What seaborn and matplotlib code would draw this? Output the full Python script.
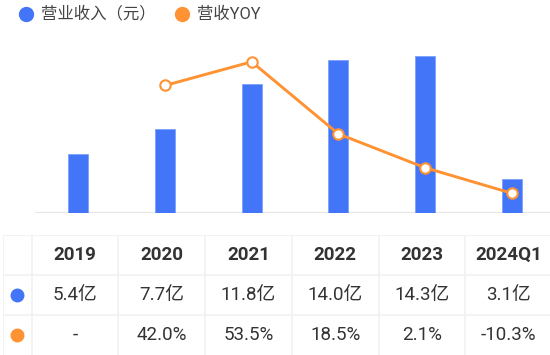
import numpy as np
import pandas as pd
import matplotlib
matplotlib.use("Agg")
import matplotlib.pyplot as plt
import seaborn as sns

# ---- data ----
years = ["2019", "2020", "2021", "2022", "2023", "2024Q1"]
revenue = [5.4, 7.7, 11.8, 14.0, 14.3, 3.1]          # 亿元
yoy = [np.nan, 42.0, 53.5, 18.5, 2.1, -10.3]          # %
legend_labels = ["营业收入（元）", "营收YOY"]

blue = "#4275f8"
orange = "#ff9233"
text_c = "#333333"
grid_c = "#f1f1f1"

sns.set_theme(style="white")
plt.rcParams["font.family"] = ["Roboto", "Noto Sans CJK SC", "DejaVu Sans"]

W, H = 550, 355
fig = plt.figure(figsize=(W / 100, H / 100), dpi=100)

df = pd.DataFrame({"year": years, "revenue": revenue, "yoy": yoy, "pos": np.arange(len(years))})

# ---- chart area (pixel layout) ----
left_px, right_px, top_px, base_px = 35, 555, 30, 213.3
ax = fig.add_axes([left_px / W, (H - base_px) / H, (right_px - left_px) / W, (base_px - top_px) / H])
sns.barplot(data=df, x="year", y="revenue", ax=ax, color=blue, saturation=1,
            width=0.23, edgecolor="#7ea0fb", linewidth=0.6)
ax.set_xlim(-0.5, len(years) - 0.5)
ax.set_ylim(0, (base_px - top_px) / 10.98)
ax.axhline(0, color="#e6e6e6", lw=1.6, zorder=0)
ax.set_xticks([])
ax.set_yticks([])
ax.set_xlabel("")
ax.set_ylabel("")
for s in ax.spines.values():
    s.set_visible(False)

ax2 = ax.twinx()
sns.lineplot(data=df, x="pos", y="yoy", ax=ax2, color=orange, lw=2.1,
             marker="o", markersize=7.5, markerfacecolor="white",
             markeredgecolor=orange, markeredgewidth=1.5)
zero_px, k = 172.0, 2.06
ax2.set_ylim(-(base_px - zero_px) / k, (zero_px - top_px) / k)
ax2.set_xlim(-0.5, len(years) - 0.5)
ax2.set_yticks([])
ax2.set_xlabel("")
ax2.set_ylabel("")
for s in ax2.spines.values():
    s.set_visible(False)

# ---- legend ----
leg = fig.add_axes([0, 0, 1, 1])
leg.set_xlim(0, W)
leg.set_ylim(H, 0)
leg.axis("off")
leg.plot([25.5], [13.8], "o", color=blue, markersize=10)
leg.text(41, 14, legend_labels[0], fontsize=11.8, color="#444444", va="center", ha="left")
leg.plot([182], [13.8], "o", color=orange, markersize=10)
leg.text(197, 14, legend_labels[1], fontsize=11.8, color="#444444", va="center", ha="left")

# ---- table ----
col_w = 86.7
icon_w = 28.4 / col_w
tab_left, tab_top = 3.3, 235
tab_right = tab_left + 28.4 + col_w * len(years)
tab = fig.add_axes([tab_left / W, 0, (tab_right - tab_left) / W, (H - tab_top) / H])
tab.set_xlim(-0.5 - icon_w, len(years) - 0.5)
tab.set_ylim(3, 0)
tab.axis("off")

for yline in [0, 1, 2]:
    tab.axhline(yline, color=grid_c, lw=1.2)
for xline in [-0.5 - icon_w] + [i - 0.5 for i in range(len(years) + 1)]:
    tab.axvline(xline, color=grid_c, lw=1.2)

tab.plot([-0.5 - icon_w / 2 - 0.005], [1.5], "o", color=blue, markersize=9)
tab.plot([-0.5 - icon_w / 2 - 0.005], [2.5], "o", color=orange, markersize=9)

for i, yr in enumerate(years):
    tab.text(i, 0.5, yr, ha="center", va="center", fontsize=13.5,
             fontweight="bold", color=text_c)
    tab.text(i, 1.5, f"{revenue[i]:.1f}亿", ha="center", va="center",
             fontsize=13.5, color=text_c)
    v = yoy[i]
    lab = "-" if np.isnan(v) else f"{v:.1f}%"
    tab.text(i, 2.5, lab, ha="center", va="center", fontsize=13.5, color=text_c)

fig.savefig("out.png", dpi=100)
